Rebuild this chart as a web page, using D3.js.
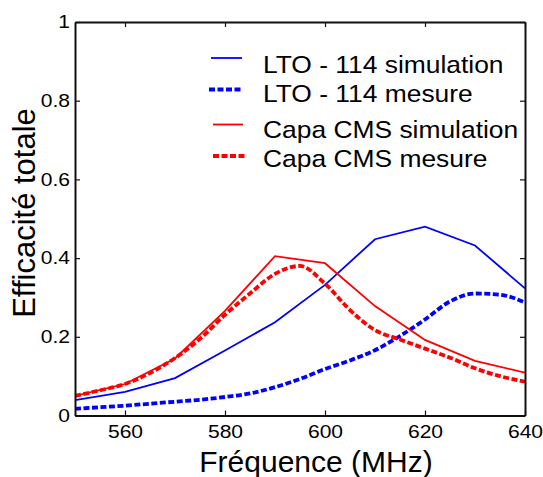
<!DOCTYPE html>
<html><head><meta charset="utf-8">
<script src="https://cdn.jsdelivr.net/npm/d3@7"></script>
<style>
body{margin:0;background:#fff;}
svg text{font-family:"Liberation Sans",Arial,sans-serif;fill:#000;}
</style></head>
<body><svg id="c" width="543" height="477"></svg>
<script>
const freqSim = [550,560,570,580,590,600,610,620,630,640];
const ltoSim  = [0.039,0.060,0.095,0.165,0.237,0.332,0.448,0.480,0.432,0.323];
const capaSim = [0.050,0.080,0.145,0.266,0.405,0.387,0.278,0.192,0.139,0.109];
const freqMes = [550,555,560,565,570,575,580,585,590,595,600,605,610,615,620,625,630,635,640];
const ltoMes  = [0.017,0.021,0.025,0.030,0.035,0.040,0.047,0.056,0.072,0.093,0.118,0.140,0.166,0.202,0.244,0.290,0.310,0.307,0.287];
const capaMes = [0.050,0.064,0.080,0.108,0.146,0.195,0.256,0.310,0.360,0.380,0.335,0.268,0.217,0.193,0.170,0.147,0.120,0.100,0.086];
const xTicks = [560,580,600,620,640];
const yTicks = [0,0.2,0.4,0.6,0.8,1];
const yTickLabels = ["0","0.2","0.4","0.6","0.8","1"];
const legendLabels = ["LTO - 114 simulation","LTO - 114 mesure","Capa CMS simulation","Capa CMS mesure"];
const xTitle = "Fréquence (MHz)";
const yTitle = "Efficacité totale";

const svg = d3.select("#c");
const L=75, R=525, T=22, B=415.5;
const x = d3.scaleLinear().domain([550,640]).range([L,R]);
const y = d3.scaleLinear().domain([0,1]).range([B,T]);

const series = [
  {f:freqSim, v:ltoSim, color:"#0000ff", w:1.8, dash:null, curve:d3.curveLinear},
  {f:freqMes, v:ltoMes, color:"#0000ff", w:3.8, dash:"6,2.5", curve:d3.curveMonotoneX},
  {f:freqSim, v:capaSim, color:"#ff0000", w:1.8, dash:null, curve:d3.curveLinear},
  {f:freqMes, v:capaMes, color:"#ff0000", w:3.8, dash:"6,2.5", curve:d3.curveMonotoneX}
];

svg.append("clipPath").attr("id","cp").append("rect")
  .attr("x",L).attr("y",T).attr("width",R-L).attr("height",B-T);

const plot = svg.append("g").attr("clip-path","url(#cp)");
series.forEach(s=>{
  const line = d3.line().x((d,i)=>x(s.f[i])).y(d=>y(d)).curve(s.curve);
  plot.append("path").attr("d",line(s.v)).attr("fill","none")
    .attr("stroke",s.color).attr("stroke-width",s.w)
    .attr("stroke-dasharray",s.dash);
});

const ax = (g)=>{g.selectAll("path").attr("stroke","#111").attr("stroke-width",2);
  g.selectAll("line").attr("stroke","#111").attr("stroke-width",1.2);};
const SX = 1.17;
svg.append("g").attr("transform",`translate(0,${B})`)
  .call(d3.axisBottom(x).tickValues(xTicks).tickSizeInner(-5).tickSizeOuter(0).tickFormat(d3.format("d")).tickPadding(10))
  .call(ax)
  .selectAll("text").attr("font-size",18).attr("fill","#000")
  .attr("font-family","Liberation Sans, Arial, sans-serif")
  .attr("transform",`scale(${SX},1)`);
svg.append("g").attr("transform",`translate(0,${T})`)
  .call(d3.axisTop(x).tickValues(xTicks).tickSizeInner(-5).tickSizeOuter(0).tickFormat(""))
  .call(ax);
svg.append("g").attr("transform",`translate(${L},0)`)
  .call(d3.axisLeft(y).tickValues(yTicks).tickSizeInner(-5).tickSizeOuter(0).tickFormat((d,i)=>yTickLabels[i]).tickPadding(9))
  .call(ax)
  .selectAll("text").attr("font-size",18).attr("fill","#000")
  .attr("font-family","Liberation Sans, Arial, sans-serif")
  .attr("x",-5/SX).attr("transform",`scale(${SX},1)`);
svg.append("g").attr("transform",`translate(${R},0)`)
  .call(d3.axisRight(y).tickValues(yTicks).tickSizeInner(-5).tickSizeOuter(0).tickFormat(""))
  .call(ax);
svg.selectAll(".domain").attr("stroke","#111").attr("stroke-width",2);

svg.append("text").attr("x",316).attr("y",472).attr("text-anchor","middle")
  .attr("font-size",30).text(xTitle);
svg.append("text").attr("transform","translate(35,213) rotate(-90)").attr("text-anchor","middle")
  .attr("font-size",31).text(yTitle);

const legY = [58,89.5,124.5,156];
const legBase = [73,102,137.5,166.5];
const lx0=[211,209,213,213], lx1=[242,243,243,246];
series.forEach((s,i)=>{
  svg.append("line").attr("x1",lx0[i]).attr("x2",lx1[i]).attr("y1",legY[i]).attr("y2",legY[i])
    .attr("stroke",s.color).attr("stroke-width",s.w).attr("stroke-dasharray",s.dash);
  svg.append("text").attr("transform",`translate(263,${legBase[i]}) scale(1.1,1)`)
    .attr("font-size",24).text(legendLabels[i]);
});
</script></body></html>
